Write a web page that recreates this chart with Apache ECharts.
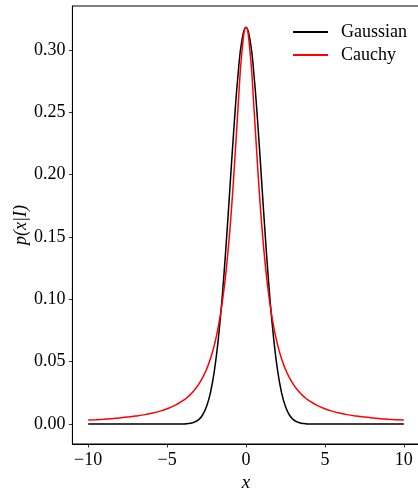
<!DOCTYPE html>
<html>
<head>
<meta charset="utf-8">
<script src="https://cdn.jsdelivr.net/npm/echarts@6/dist/echarts.min.js"></script>
<style>
html,body{margin:0;padding:0;background:#fff;}
#c{width:418px;height:490px;}
</style>
</head>
<body>
<div id="c"></div>
<script>
var xValues = [-10,-9.5,-9,-8.5,-8,-7.5,-7,-6.5,-6,-5.5,-5,-4.5,-4,-3.75,-3.5,-3.25,-3,-2.75,-2.5,-2.25,-2,-1.75,-1.5,-1.25,-1,-0.75,-0.5,-0.25,0,
  0.25,0.5,0.75,1,1.25,1.5,1.75,2,2.25,2.5,2.75,3,3.25,3.5,3.75,4,4.5,5,5.5,6,6.5,7,7.5,8,8.5,9,9.5,10];
var gaussian = [0,0,0,0,0,0,0,0,0,0,0,0.00001,0.00011,0.00028,0.00070,0.00162,0.00354,0.00726,0.01399,0.02532,0.04308,0.06884,0.10334,0.14573,0.19307,0.24027,0.28091,0.30852,0.31831,
  0.30852,0.28091,0.24027,0.19307,0.14573,0.10334,0.06884,0.04308,0.02532,0.01399,0.00726,0.00354,0.00162,0.00070,0.00028,0.00011,0.00001,0,0,0,0,0,0,0,0,0,0,0];
var cauchy = [0.00315,0.00349,0.00388,0.00435,0.00490,0.00556,0.00637,0.00736,0.00860,0.01019,0.01224,0.01498,0.01872,0.02113,0.02402,0.02753,0.03183,0.03718,0.04391,0.05250,0.06366,0.07835,0.09794,0.12422,0.15915,0.20372,0.25465,0.29959,0.31831,
  0.29959,0.25465,0.20372,0.15915,0.12422,0.09794,0.07835,0.06366,0.05250,0.04391,0.03718,0.03183,0.02753,0.02402,0.02113,0.01872,0.01498,0.01224,0.01019,0.00860,0.00736,0.00637,0.00556,0.00490,0.00435,0.00388,0.00349,0.00315];
var xTicks = [-10,-5,0,5,10];
var yTicks = [0,0.05,0.10,0.15,0.20,0.25,0.30];
var seriesNames = ['Gaussian','Cauchy'];

function pairs(ys){ return xValues.map(function(x,i){return [x,ys[i]];}); }
var FONT = 'Liberation Serif';
var chart = echarts.init(document.getElementById('c'), null, {renderer:'canvas'});
chart.setOption({
  backgroundColor:'#fff',
  animation:false,
  grid:{left:72.4, top:6, width:347.2, height:438, outerBoundsMode:'none', containLabel:false,
    show:true, borderColor:'#000', borderWidth:1, backgroundColor:'transparent'},
  xAxis:{
    type:'value', min:-11, max:11,
    name:'x', nameLocation:'middle', nameGap:29, nameMoveOverlap:false,
    nameTextStyle:{fontFamily:FONT, fontStyle:'italic', fontSize:19, color:'#000'},
    axisLine:{show:true, onZero:false, lineStyle:{color:'#000', width:1}},
    axisTick:{show:true, customValues:xTicks, inside:false, length:3.5, lineStyle:{color:'#000', width:0.8}},
    axisLabel:{customValues:xTicks, margin:7, fontFamily:FONT, fontSize:18, color:'#000',
      formatter:function(v){return String(v).replace('-', '\u2212');}},
    splitLine:{show:false}
  },
  yAxis:{
    type:'value', min:-0.016, max:0.3353,
    name:'p(x|I)', nameLocation:'middle', nameGap:42, nameRotate:90, nameMoveOverlap:false,
    nameTextStyle:{fontFamily:FONT, fontStyle:'italic', fontSize:18, color:'#000'},
    axisLine:{show:true, onZero:false, lineStyle:{color:'#000', width:1}},
    axisTick:{show:true, customValues:yTicks, inside:false, length:3.5, lineStyle:{color:'#000', width:0.8}},
    axisLabel:{customValues:yTicks, margin:7, fontFamily:FONT, fontSize:18, color:'#000',
      formatter:function(v){return v.toFixed(2);}},
    splitLine:{show:false}
  },
  legend:{
    show:true, orient:'vertical', left:288, top:18, itemWidth:35, itemHeight:2, itemGap:5,
    icon:'rect', data:seriesNames,
    textStyle:{fontFamily:FONT, fontSize:18, color:'#000', padding:[0,0,0,8], lineHeight:18}
  },
  series:[
    {name:seriesNames[0], type:'line', data:pairs(gaussian), showSymbol:false, symbol:'none', smooth:0.5,
      lineStyle:{color:'#000', width:1.5}, itemStyle:{color:'#000'}},
    {name:seriesNames[1], type:'line', data:pairs(cauchy), showSymbol:false, symbol:'none', smooth:0.5,
      lineStyle:{color:'#ff0000', width:1.5}, itemStyle:{color:'#ff0000'}}
  ]
});
</script>
</body>
</html>
